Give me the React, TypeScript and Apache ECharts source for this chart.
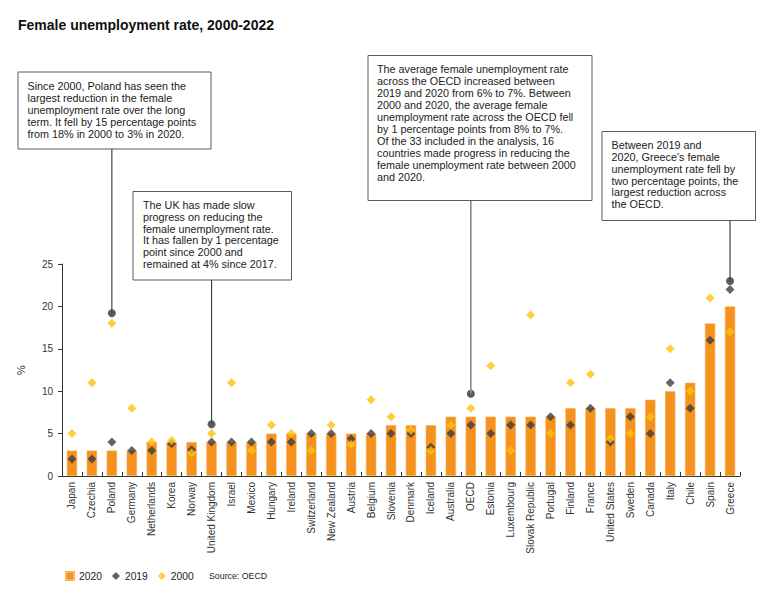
import React, { useEffect, useRef } from "react";
import * as echarts from "echarts";

const categories = [
  "Japan", "Czechia", "Poland", "Germany", "Netherlands", "Korea", "Norway",
  "United Kingdom", "Israel", "Mexico", "Hungary", "Ireland", "Switzerland",
  "New Zealand", "Austria", "Belgium", "Slovenia", "Denmark", "Iceland",
  "Australia", "OECD", "Estonia", "Luxembourg", "Slovak Republic", "Portugal",
  "Finland", "France", "United States", "Sweden", "Canada", "Italy", "Chile",
  "Spain", "Greece",
];

const v2020 = [3, 3, 3, 3, 4, 4, 4, 4, 4, 4, 5, 5, 5, 5, 5, 5, 6, 6, 6, 7, 7, 7, 7, 7, 7, 8, 8, 8, 8, 9, 10, 11, 18, 20];
const v2019 = [2, 2, 4, 3, 3, 3.8, 3.1, 4, 4, 4, 4, 4, 5, 5, 4.4, 5, 5, 5, 3.4, 5, 6, 5, 6, 6, 7, 6, 8, 4, 7, 5, 11, 8, 16, 22];
const v2000 = [5, 11, 18, 8, 4, 4.2, 2.7, 5, 11, 3, 6, 5, 3, 6, 3.7, 9, 7, 5.4, 3, 6, 8, 13, 3, 19, 5, 11, 12, 4.4, 5, 7, 15, 10, 21, 17];

const yTicks = { min: 0, max: 25, interval: 5 };

const calloutCats = ["Poland", "United Kingdom", "OECD", "Greece"];
const calloutVals = [19.2, 6.1, 9.7, 23];

const noteTexts = [
  "Since 2000, Poland has seen the\nlargest reduction in the female\nunemployment rate over the long\nterm. It fell by 15 percentage points\nfrom 18% in 2000 to 3% in 2020.",
  "The UK has made slow\nprogress on reducing the\nfemale unemployment rate.\nIt has fallen by 1 percentage\npoint since 2000 and\nremained at 4% since 2017.",
  "The average female unemployment rate\nacross the OECD increased between\n2019 and 2020 from 6% to 7%. Between\n2000 and 2020, the average female\nunemployment rate across the OECD fell\nby 1 percentage points from 8% to 7%.\nOf the 33 included in the analysis, 16\ncountries made progress in reducing the\nfemale unemployment rate between 2000\nand 2020.",
  "Between 2019 and\n2020, Greece's female\nunemployment rate fell by\ntwo percentage points, the\nlargest reduction across\nthe OECD.",
];

// box layout: [x, y, w, h, textX, textY, lineHeight, lineColor]
const boxes: [number, number, number, number, number, number, number, string][] = [
  [18, 72, 193, 77, 27.5, 79.5, 12, "#444"],
  [133, 191.5, 158.5, 88.5, 143, 199, 11.8, "#444"],
  [368, 55.5, 224, 145, 377, 63.3, 12, "#8a8a8a"],
  [602, 131.5, 153.5, 89, 611.5, 139.4, 11.8, "#444"],
];

const FONT = "'Liberation Sans', Arial, Helvetica, sans-serif";

export default function App() {
  const ref = useRef<HTMLDivElement>(null);

  useEffect(() => {
    document.body.style.margin = "0";
    if (!ref.current) return;
    const chart = echarts.init(ref.current, undefined, { renderer: "svg" });

    const calloutData = categories.map((c) => {
      const i = calloutCats.indexOf(c);
      return i >= 0 ? calloutVals[i] : "-";
    });

    chart.setOption({
      animation: false,
      backgroundColor: "#ffffff",
      textStyle: { fontFamily: FONT },
      title: {
        text: "Female unemployment rate, 2000-2022",
        left: 18,
        top: 18,
        padding: 0,
        textStyle: { fontSize: 14, fontWeight: "bold", color: "#111", fontFamily: FONT },
      },
      legend: {
        left: 65,
        top: 571,
        padding: 0,
        itemWidth: 8,
        itemHeight: 8,
        itemGap: 10,
        textStyle: { fontSize: 10.3, color: "#222", fontFamily: FONT },
        data: [
          { name: "2020", icon: "rect" },
          { name: "2019", icon: "diamond" },
          { name: "2000", icon: "diamond" },
        ],
      },
      grid: { left: 62, right: 40, top: 264, bottom: 122, containLabel: false },
      xAxis: {
        type: "category",
        data: categories,
        boundaryGap: true,
        axisLine: { show: true, lineStyle: { color: "#333", width: 1 } },
        axisTick: { show: true, inside: true, length: 4, interval: 0, lineStyle: { color: "#333" } },
        axisLabel: { rotate: 90, interval: 0, fontSize: 10, color: "#333", margin: 6, fontFamily: FONT },
        splitLine: { show: false },
      },
      yAxis: {
        type: "value",
        min: yTicks.min,
        max: yTicks.max,
        interval: yTicks.interval,
        name: "%",
        nameLocation: "middle",
        nameRotate: 90,
        nameGap: 36,
        nameTextStyle: { fontSize: 11, color: "#333", fontFamily: FONT },
        axisLine: { show: true, lineStyle: { color: "#333", width: 1 } },
        axisTick: { show: true, inside: false, length: 4, lineStyle: { color: "#333" } },
        axisLabel: { fontSize: 10, color: "#333", margin: 9, fontFamily: FONT },
        splitLine: { show: false },
      },
      series: [
        {
          name: "2020",
          type: "bar",
          data: v2020,
          barWidth: "52%",
          itemStyle: { color: "#F5921E", borderColor: "#F9B466", borderWidth: 0.6 },
          z: 1,
        },
        {
          name: "2019",
          type: "scatter",
          data: v2019,
          symbol: "diamond",
          symbolSize: 9,
          itemStyle: { color: "#3D3D3D" },
          z: 3,
        },
        {
          name: "2000",
          type: "scatter",
          data: v2000,
          symbol: "diamond",
          symbolSize: 9,
          itemStyle: { color: "#FFC20E" },
          z: 4,
        },
        {
          name: "callout",
          type: "scatter",
          data: calloutData,
          symbol: "circle",
          symbolSize: 8,
          itemStyle: { color: "#333" },
          z: 5,
          silent: true,
        },
      ],
    });

    const graphics: any[] = [];
    boxes.forEach((b, i) => {
      const [bx, by, bw, bh, tx, ty, lh, lc] = b;
      const p = chart.convertToPixel({ xAxisIndex: 0, yAxisIndex: 0 }, [calloutCats[i], calloutVals[i]]) as number[];
      graphics.push({
        type: "line",
        shape: { x1: p[0], y1: by + bh, x2: p[0], y2: p[1] },
        style: { stroke: lc, lineWidth: i === 2 ? 1.6 : 1.2 },
        z: 10,
      });
      graphics.push({
        type: "rect",
        shape: { x: bx, y: by, width: bw, height: bh },
        style: { fill: "#fff", stroke: "#5a5a5a", lineWidth: 1 },
        z: 11,
      });
      graphics.push({
        type: "text",
        x: tx,
        y: ty,
        style: {
          text: noteTexts[i],
          fill: "#222",
          fontSize: 10.8,
          fontFamily: FONT,
          lineHeight: lh,
          verticalAlign: "top",
        },
        z: 12,
      });
    });
    graphics.push({
      type: "text",
      x: 209,
      y: 575.5,
      style: {
        text: "Source: OECD",
        fill: "#222",
        fontSize: 8.8,
        fontFamily: FONT,
        verticalAlign: "middle",
      },
      z: 12,
    });
    chart.setOption({ graphic: graphics });

    return () => chart.dispose();
  }, []);

  return <div ref={ref} style={{ width: 780, height: 598, position: "absolute", left: 0, top: 0 }} />;
}
